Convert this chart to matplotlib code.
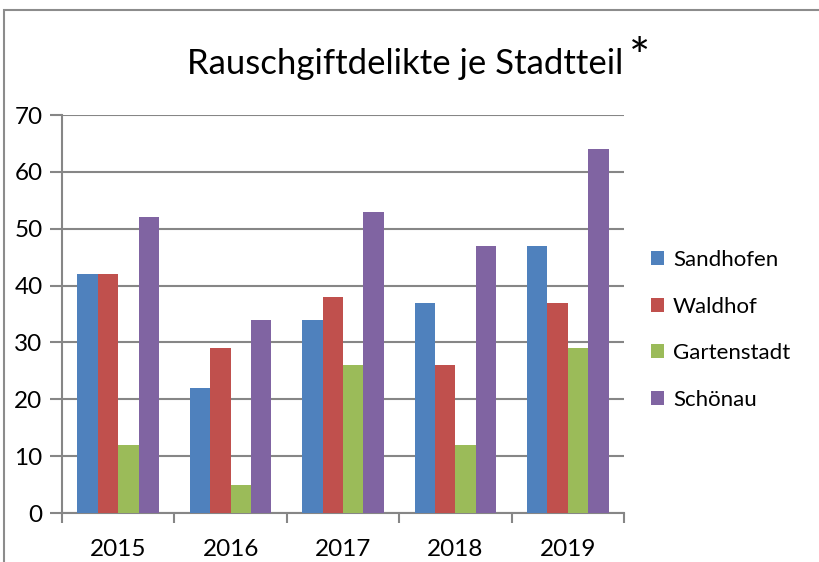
import matplotlib.pyplot as plt
import numpy as np
from matplotlib.patches import Rectangle

plt.rcParams['font.family'] = ['Lato', 'DejaVu Sans']

# data
years = ['2015', '2016', '2017', '2018', '2019']
sandhofen = [42, 22, 34, 37, 47]
waldhof = [42, 29, 38, 26, 37]
gartenstadt = [12, 5, 26, 12, 29]
schoenau = [52, 34, 53, 47, 64]
series = [('Sandhofen', sandhofen, '#4F81BD'),
          ('Waldhof', waldhof, '#C0504D'),
          ('Gartenstadt', gartenstadt, '#9BBB59'),
          ('Schönau', schoenau, '#8064A2')]

fig = plt.figure(figsize=(8.2, 5.62), dpi=100)
ax = fig.add_axes([62/820, 49/562, 562/820, 398/562])

# outer chart frame (cut off at right/bottom)
fig.patches.append(Rectangle((4/820, -0.05), 1.2, (562-10)/562 + 0.05,
                             transform=fig.transFigure, fill=False,
                             edgecolor='#8c8c8c', linewidth=1.5))

x = np.arange(len(years))
w = 1/5.5
for i, (name, vals, col) in enumerate(series):
    ax.bar(x + (i - 1.5)*w, vals, w, color=col, label=name, zorder=3)

ax.set_xlim(-0.5, len(years) - 0.5)
ax.set_ylim(0, 70)
ax.set_yticks(range(0, 71, 10))
ax.set_xticks(x)
ax.set_xticklabels(years)
ax.set_xticks(np.arange(-0.5, len(years), 1), minor=True)
ax.tick_params(axis='x', which='major', length=0, pad=19, labelsize=17.5)
ax.tick_params(axis='x', which='minor', length=7, width=1.5, color='#868686', direction='out')
ax.tick_params(axis='y', length=9, width=1.5, color='#868686', labelsize=17.5, pad=5)
ax.yaxis.grid(True, color='#868686', linewidth=1.5, zorder=0)
for s in ['top', 'right']:
    ax.spines[s].set_visible(False)
for s in ['left', 'bottom']:
    ax.spines[s].set_color('#868686')
    ax.spines[s].set_linewidth(1.5)

fig.text(405/820, 1 - 64/562, 'Rauschgiftdelikte je Stadtteil', ha='center', va='center',
         fontsize=25)
fig.text(640/820, 1 - 60/562, '*', ha='center', va='center', fontsize=36)

ax.legend(loc='upper left', bbox_to_anchor=(642/820, 1 - 241/562), bbox_transform=fig.transFigure,
          frameon=False, fontsize=16, handlelength=0.6, handleheight=0.6,
          handletextpad=0.4, labelspacing=1.2, borderaxespad=0)

fig.savefig('out.png', dpi=100)
